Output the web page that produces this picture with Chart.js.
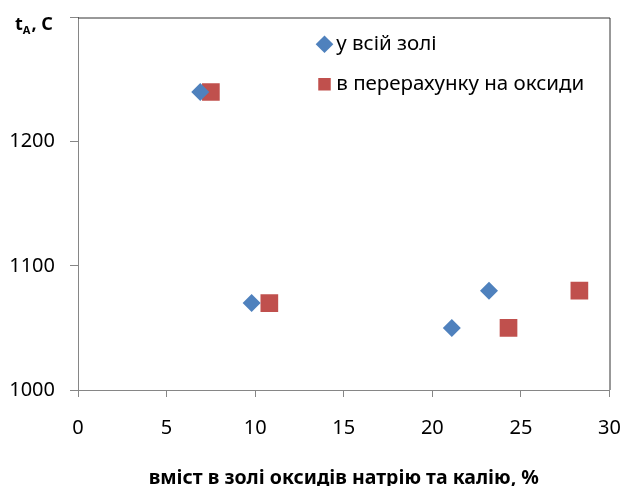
<!DOCTYPE html>
<html>
<head>
<meta charset="utf-8">
<script src="https://cdn.jsdelivr.net/npm/chart.js@4"></script>
<style>
  html, body { margin: 0; padding: 0; background: #fff; }
  #wrap { width: 622px; height: 486px; }
</style>
</head>
<body>
<div id="wrap"><canvas id="chart" width="622" height="486"></canvas></div>
<script>
const seriesNames = ['у всій золі', 'в перерахунку на оксиди'];
const ashX = [6.9, 9.8, 21.1, 23.2];
const ashY = [1240, 1070, 1050, 1080];
const oxideX = [7.5, 10.8, 24.3, 28.3];
const oxideY = [1240, 1070, 1050, 1080];
const xTicks = [0, 5, 10, 15, 20, 25, 30];
const yTicks = [1000, 1100, 1200, 1300];
const xTitle = 'вміст в золі оксидів натрію та калію, %';

const blue = '#4F81BD';
const red = '#C0504D';
const font = 'Noto Sans';

function toPoints(xs, ys) {
  return xs.map((x, i) => ({ x: x, y: ys[i] }));
}

// plot area frame: top and right edges are dark
const frame = {
  id: 'frame',
  beforeDatasetsDraw(chart) {
    const { ctx, chartArea: a } = chart;
    ctx.save();
    ctx.strokeStyle = '#333';
    ctx.lineWidth = 1;
    ctx.beginPath();
    ctx.moveTo(a.left, a.top + 0.5);
    ctx.lineTo(a.right + 0.5, a.top + 0.5);
    ctx.lineTo(a.right + 0.5, a.bottom);
    ctx.stroke();
    ctx.restore();
  }
};

// y title "tA, C" sits where the top tick label would be
const yTitle = {
  id: 'yTitle',
  afterDraw(chart) {
    const { ctx } = chart;
    const y = chart.scales.y.getPixelForValue(1300) + 12;
    ctx.save();
    ctx.fillStyle = '#000';
    ctx.textBaseline = 'alphabetic';
    ctx.font = 'bold 18px "' + font + '"';
    ctx.fillText('t', 15, y);
    let x = 15 + ctx.measureText('t').width;
    ctx.font = 'bold 11px "' + font + '"';
    ctx.fillText('A', x, y + 4);
    x += ctx.measureText('A').width + 1;
    ctx.font = 'bold 18px "' + font + '"';
    ctx.fillText(', C', x, y);
    ctx.restore();
  }
};

// move the legend into the upper right of the plot
const legendSpot = {
  id: 'legendSpot',
  afterLayout(chart) {
    const lg = chart.legend;
    if (!lg) return;
    const w = lg.width, h = lg.height;
    lg.left = 303.5;
    lg.top = 14.5;
    lg.right = lg.left + w;
    lg.bottom = lg.top + h;
  }
};

new Chart(document.getElementById('chart'), {
  type: 'scatter',
  data: {
    datasets: [{
      label: seriesNames[0],
      data: toPoints(ashX, ashY),
      pointStyle: 'rectRot',
      pointRadius: 9,
      pointHoverRadius: 9,
      backgroundColor: blue,
      borderColor: blue,
      borderWidth: 0
    }, {
      label: seriesNames[1],
      data: toPoints(oxideX, oxideY),
      pointStyle: 'rect',
      pointRadius: 12.5,
      pointHoverRadius: 12.5,
      backgroundColor: red,
      borderColor: red,
      borderWidth: 0
    }]
  },
  options: {
    responsive: false,
    animation: false,
    layout: { padding: { left: 0, right: 12.5, top: 17.5, bottom: 0 } },
    plugins: {
      tooltip: { enabled: false },
      legend: {
        position: 'chartArea',
        align: 'start',
        labels: {
          usePointStyle: true,
          boxWidth: 3,
          boxHeight: 12.5,
          padding: 19.5,
          color: '#000',
          font: { family: font, size: 20.5 }
        }
      }
    },
    scales: {
      x: {
        type: 'linear',
        min: 0,
        max: 30,
        afterFit(s) {
          s.height = 96;
          s.paddingLeft = 0;
          s.paddingRight = 0;
        },
        afterBuildTicks(s) { s.ticks = xTicks.map(v => ({ value: v })); },
        grid: { drawOnChartArea: false, tickLength: 7, color: '#868686' },
        border: { color: '#868686' },
        ticks: {
          padding: 19,
          color: '#000',
          font: { family: font, size: 20 }
        },
        title: {
          display: true,
          text: xTitle,
          color: '#000',
          padding: { top: 0, bottom: 0 },
          font: { family: font, size: 19.5, weight: 'bold', lineHeight: 0.8 }
        }
      },
      y: {
        type: 'linear',
        min: 1000,
        max: 1300,
        afterFit(s) {
          s.width = 78;
          s.paddingTop = 0;
          s.paddingBottom = 0;
        },
        afterBuildTicks(s) { s.ticks = yTicks.map(v => ({ value: v })); },
        grid: { drawOnChartArea: false, tickLength: 8, color: '#868686' },
        border: { color: '#868686' },
        ticks: {
          padding: 15,
          color: '#000',
          font: { family: font, size: 20 },
          callback: v => (v === 1300 ? '' : v)
        }
      }
    }
  },
  plugins: [frame, yTitle, legendSpot]
});
</script>
</body>
</html>
